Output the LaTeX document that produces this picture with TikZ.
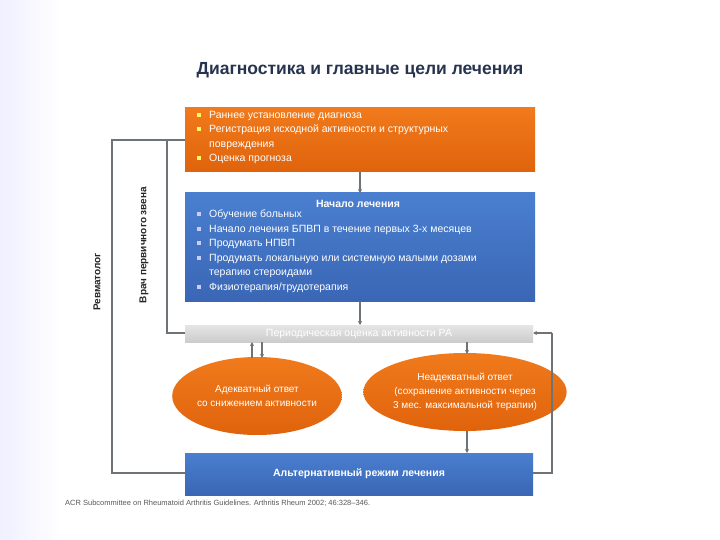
\documentclass[tikz,border=0pt]{standalone}
\usepackage{fontspec}
\setmainfont{Liberation Sans}
\usetikzlibrary{shapes.geometric,arrows.meta}
\definecolor{org}{HTML}{F07A1C}
\definecolor{orgd}{HTML}{E0630C}
\definecolor{blu}{HTML}{4A7FD0}
\definecolor{blud}{HTML}{3A66B5}
\definecolor{ttl}{HTML}{27344F}
\definecolor{ln}{HTML}{6E7378}
\newcommand{\mybul}[1]{\textcolor{#1}{\raisebox{1.5pt}{\rule{4pt}{4pt}}}\hspace{8pt}}
\begin{document}
\begin{tikzpicture}[x=1pt,y=-1pt,
  txt/.style={text=white,font=\fontsize{10.5}{14.5}\selectfont,align=left,anchor=north west,inner sep=0pt},
  conn/.style={draw=ln,line width=1.6pt},
  arr/.style={draw=ln,line width=1.2pt,-{Stealth[length=4pt,width=4pt]}},
  ell/.style={ellipse,top color=org,bottom color=orgd,draw=none,text=white,align=center,font=\fontsize{10}{14}\selectfont,inner sep=0pt}]
\useasboundingbox (0,0) rectangle (720,540);
\fill[white] (0,0) rectangle (720,540);
\shade[left color=blue!6,right color=white] (0,0) rectangle (60,540);
\node[font=\bfseries\fontsize{17.5}{20}\selectfont,text=ttl] (title) at (360,70) {Диагностика и главные цели лечения};
% orange box
\fill[top color=org,bottom color=orgd] (185,108) rectangle (535,172);
\coordinate (oL) at (185,140);
\coordinate (oB) at (360,172);
\node[txt] (otxt) at (197,111) {%
\mybul{yellow!60}Раннее установление диагноза\\
\mybul{yellow!60}Регистрация исходной активности и структурных\\
\hspace*{12pt}повреждения\\
\mybul{yellow!60}Оценка прогноза};
% blue box
\fill[top color=blu,bottom color=blud] (185,193) rectangle (535,301);
\coordinate (bT) at (360,193);
\coordinate (bB) at (360,301);
\node[font=\bfseries\fontsize{10.5}{12}\selectfont,text=white] (bttl) at (358,204) {Начало лечения};
\node[txt] (btxt) at (197,210) {%
\mybul{white!80!blue}Обучение больных\\
\mybul{white!80!blue}Начало лечения БПВП в течение первых 3-х месяцев\\
\mybul{white!80!blue}Продумать НПВП\\
\mybul{white!80!blue}Продумать локальную или системную малыми дозами\\
\hspace*{12pt}терапию стероидами\\
\mybul{white!80!blue}Физиотерапия/трудотерапия};
% gray bar
\fill[top color=black!10,bottom color=black!20] (185,325) rectangle (533,342);
\node[text=white,font=\fontsize{10.5}{12}\selectfont] (gtxt) at (359,333.5) {Периодическая оценка активности РА};
\coordinate (gL) at (185,333);
\coordinate (gR) at (533,333);
% ellipses
\node[ell,minimum width=152pt,minimum height=78pt] (e1) at (257,396) {Адекватный ответ\\со снижением активности};
\node[ell,minimum width=178pt,minimum height=78pt] (e2) at (465,392) {Неадекватный ответ\\(сохранение активности через\\3 мес. максимальной терапии)};
% bottom bar
\fill[top color=blu,bottom color=blud] (185,453) rectangle (533,495);
\node[font=\bfseries\fontsize{10.5}{12}\selectfont,text=white] (alt) at (359,474) {Альтернативный режим лечения};
\coordinate (aL) at (185,473);
\coordinate (aR) at (533,473);
\coordinate (aT) at (467,453);
% connectors
\draw[conn] (oL) -- (167,140) -- (167,333) -- (gL);
\draw[conn] (oL) -- (112,140) -- (112,473) -- (aL);
\draw[conn] (aR) -- (552,473) -- (552,333);
\draw[arr] (552,333) -- (gR);
\draw[arr] (oB) -- (bT);
\draw[arr] (bB) -- (360,325);
\draw[arr] (262,342) -- (262,358);
\draw[arr] (252,358) -- (252,342);
\draw[arr] (467,342) -- (467,354);
\draw[arr] (467,431) -- (aT);
\node[rotate=90,font=\bfseries\fontsize{10}{12}\selectfont,text=black!85] (vr) at (144,245) {Врач первичного звена};
\node[rotate=90,font=\bfseries\fontsize{10}{12}\selectfont,text=black!85] (rv) at (97,282) {Ревматолог};
\node[anchor=west,font=\fontsize{7.5}{9}\selectfont,text=black!65,inner sep=0pt] (ref) at (65,503) {ACR Subcommittee on Rheumatoid Arthritis Guidelines. Arthritis Rheum 2002; 46:328–346.};
\end{tikzpicture}
\end{document}
